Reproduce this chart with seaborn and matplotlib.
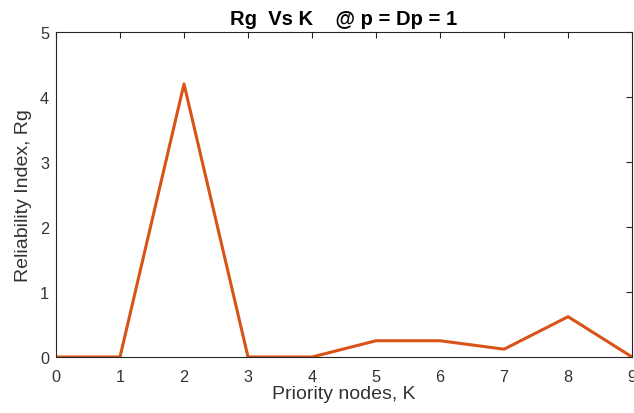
import matplotlib
matplotlib.use("Agg")
import matplotlib.pyplot as plt
import seaborn as sns
import pandas as pd

# Reliability index for each number of priority nodes
k_nodes = [0, 1, 2, 3, 4, 5, 6, 7, 8, 9]
rg_values = [0, 0, 4.2, 0, 0, 0.25, 0.25, 0.12, 0.62, 0]
x_ticks = [0, 1, 2, 3, 4, 5, 6, 7, 8, 9]
y_ticks = [0, 1, 2, 3, 4, 5]

sns.set_style("white")
plt.rcParams["font.family"] = ["Liberation Sans", "DejaVu Sans"]

df = pd.DataFrame({"K": k_nodes, "Rg": rg_values})

fig = plt.figure(figsize=(6.34, 4.14), dpi=100)
ax = fig.add_axes([0.0883, 0.1353, 0.9087, 0.785])

sns.lineplot(data=df, x="K", y="Rg", ax=ax, color="#D95319", linewidth=2.2)

ax.set_xlim(0, 9)
ax.set_ylim(0, 5)
ax.set_xticks(x_ticks)
ax.set_yticks(y_ticks)

axis_gray = "#262626"
for side in ["left", "right", "top", "bottom"]:
    ax.spines[side].set_visible(True)
    ax.spines[side].set_color(axis_gray)
    ax.spines[side].set_linewidth(0.8)
ax.tick_params(direction="in", length=4, width=0.8, colors=axis_gray,
               labelsize=11.7, top=True, right=True)
ax.tick_params(axis="x", pad=8.5)
ax.tick_params(axis="y", pad=5)
for lbl in ax.get_xticklabels() + ax.get_yticklabels():
    lbl.set_color("#333333")

ax.set_xlabel("Priority nodes, K", fontsize=14, color="#333333", labelpad=1)
ax.set_ylabel("Reliability Index, Rg", fontsize=14, color="#333333", labelpad=6)
ax.set_title("Rg  Vs K    @ p = Dp = 1", fontsize=14.5, fontweight="bold",
             color="black", pad=6)
ax.grid(False)

fig.savefig("out.png", dpi=100)
